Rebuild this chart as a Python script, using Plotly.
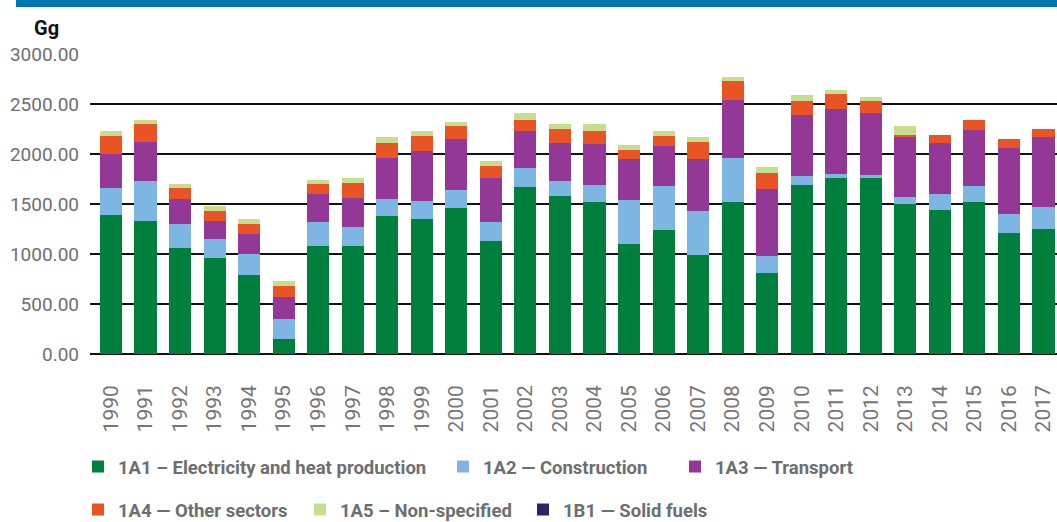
import plotly.graph_objects as go

years = [str(y) for y in range(1990, 2018)]

a1 = [1390, 1330, 1060, 960, 790, 150, 1080, 1080, 1380, 1350, 1460, 1130, 1670, 1580,
      1520, 1100, 1240, 990, 1520, 810, 1690, 1760, 1760, 1500, 1440, 1520, 1210, 1250]
a2 = [270, 400, 240, 190, 210, 200, 240, 190, 170, 180, 180, 190, 190, 150,
      170, 440, 440, 440, 440, 170, 90, 40, 30, 70, 160, 160, 190, 220]
a3 = [340, 390, 250, 180, 200, 220, 280, 290, 410, 500, 510, 440, 370, 380,
      410, 410, 400, 520, 580, 670, 610, 650, 620, 600, 510, 560, 660, 700]
a4 = [180, 180, 110, 100, 100, 110, 100, 150, 150, 150, 130, 120, 110, 140,
      130, 90, 100, 170, 190, 160, 140, 150, 120, 20, 80, 100, 90, 80]
a5 = [50, 40, 40, 50, 50, 50, 40, 50, 60, 50, 40, 50, 70, 50,
      70, 50, 50, 50, 40, 60, 60, 40, 40, 90, 0, 0, 0, 0]
b1 = [0] * 28

series = [
    ("1A1 \u2013 Electricity and heat production", a1, "#00803c"),
    ("1A2 \u2014 Construction", a2, "#7db6e3"),
    ("1A3 \u2014 Transport", a3, "#933896"),
    ("1A4 \u2014 Other sectors", a4, "#e85424"),
    ("1A5 \u2013 Non-specified", a5, "#c6df8e"),
    ("1B1 \u2014 Solid fuels", b1, "#2c2467"),
]

legend_ids = ["legend", "legend2", "legend3", "legend4", "legend5", "legend6"]
legend_pos = [(96, 467), (461, 467), (693, 467), (96, 510), (318, 510), (541, 510)]

W, H = 1057, 522
fig = go.Figure()
for (name, vals, col), lid in zip(series, legend_ids):
    fig.add_trace(go.Bar(x=years, y=vals, name=name, marker_color=col,
                         marker_line_width=0, legend=lid))

legend_font = dict(family="Roboto", size=18.5, color="#6d6e71", weight="bold")
layout_legends = {}
for lid, (px, py) in zip(legend_ids, legend_pos):
    layout_legends[lid] = dict(
        xref="container", yref="container",
        x=(px - 18) / W, y=1 - py / H,
        xanchor="left", yanchor="middle",
        orientation="h", font=legend_font,
        bgcolor="rgba(0,0,0,0)", borderwidth=0,
    )

fig.update_layout(
    width=W, height=H,
    barmode="stack", bargap=0.36,
    plot_bgcolor="white", paper_bgcolor="white",
    margin=dict(l=90, r=0, t=54, b=168),
    font=dict(family="Roboto"),
    showlegend=True,
    xaxis=dict(type="category", range=[-0.608, 27.392], tickangle=-90,
               tickfont=dict(family="Roboto", size=21, color="#767676"),
               showgrid=False, showline=False, ticks="", ticklabelstandoff=26),
    yaxis=dict(range=[0, 3000], dtick=500, tickformat=".2f",
               tickfont=dict(family="Roboto", size=19, color="#6f6f6f"),
               showgrid=True, gridcolor="#111111", gridwidth=2,
               zeroline=True, zerolinecolor="#111111", zerolinewidth=2,
               showline=False, ticks="", ticklabelstandoff=10),
    shapes=[dict(type="rect", xref="paper", yref="paper",
                 x0=16 / 967 - 90 / 967, x1=1.01, y0=1 + 47 / 300, y1=1 + 60 / 300,
                 fillcolor="#0077b3", line_width=0, layer="above")],
    annotations=[dict(text="<b>Gg</b>", xref="paper", yref="paper",
                      x=-58 / 967, y=1 + 26 / 300, xanchor="left", yanchor="middle",
                      showarrow=False,
                      font=dict(family="Roboto", size=20, color="#111111"))],
    **layout_legends,
)

fig.write_html("out.html", config={"displayModeBar": False},
               post_script="document.body.style.margin='0';document.body.style.overflow='hidden';")
